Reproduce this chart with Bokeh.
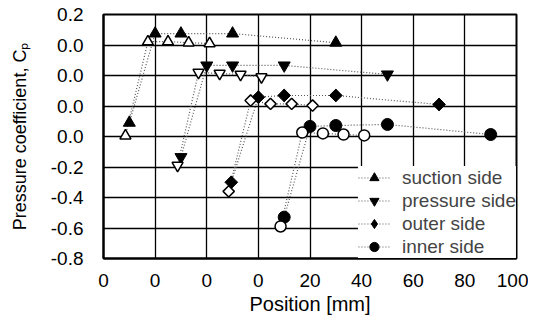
import numpy as np
from bokeh.plotting import figure
from bokeh.models import Legend, LegendItem, FixedTicker
from bokeh.embed import file_html
from bokeh.resources import INLINE

# ---- data (values in the chart's own axis units) ----
x_ticks = [-60, -40, -20, 0, 20, 40, 60, 80, 100]
x_labels = ["0", "0", "0", "0", "20", "40", "60", "80", "100"]
y_ticks = [-0.8, -0.6, -0.4, -0.2, 0.0, 0.2, 0.4, 0.6, 0.8]
y_labels = ["-0.8", "-0.6", "-0.4", "-0.2", "0.0", "0.0", "0.0", "0.0", "0.2"]

suction_x = [-50, -40, -30, -10, 30]
suction_y = [0.09, 0.675, 0.675, 0.675, 0.615]
suction_open_x = [-51.5, -42.8, -35, -27, -18.9]
suction_open_y = [0.005, 0.622, 0.622, 0.615, 0.61]

pressure_x = [-30, -20, -10, 10, 50]
pressure_y = [-0.135, 0.466, 0.466, 0.466, 0.407]
pressure_open_x = [-31.3, -23.2, -15, -6.9, 1.2]
pressure_open_y = [-0.19, 0.42, 0.413, 0.407, 0.39]

outer_x = [-10.5, 0, 10, 30, 70]
outer_y = [-0.30, 0.258, 0.269, 0.269, 0.21]
outer_open_x = [-11.5, -3, 4.7, 12.9, 21]
outer_open_y = [-0.36, 0.236, 0.214, 0.214, 0.203]

inner_x = [10, 20, 30, 50, 90]
inner_y = [-0.529, 0.066, 0.072, 0.079, 0.013]
inner_open_x = [8.6, 17, 25, 33, 41]
inner_open_y = [-0.59, 0.026, 0.02, 0.013, 0.007]

series_names = ["suction side", "pressure side", "outer side", "inner side"]

FONT = "Liberation Sans"

p = figure(width=528, height=318, x_range=(-60, 100), y_range=(-0.8, 0.8),
           output_backend="svg", toolbar_location=None,
           min_border_left=103, min_border_right=12, min_border_top=14, min_border_bottom=60)
p.background_fill_color = "white"
p.border_fill_color = "white"
p.outline_line_color = "black"
p.outline_line_width = 2

p.xaxis.ticker = FixedTicker(ticks=x_ticks)
p.yaxis.ticker = FixedTicker(ticks=y_ticks)
p.xaxis.major_label_overrides = dict(zip(x_ticks, x_labels))
p.yaxis.major_label_overrides = dict(zip(y_ticks, y_labels))

for ax in (p.xaxis, p.yaxis):
    ax.axis_line_color = "black"
    ax.axis_line_width = 2
    ax.major_tick_out = 0
    ax.major_tick_in = 0
    ax.minor_tick_out = 0
    ax.minor_tick_in = 0
    ax.major_label_text_font = FONT
    ax.major_label_text_font_size = "19px"
    ax.major_label_text_color = "black"
    ax.axis_label_text_font = FONT
    ax.axis_label_text_font_style = "normal"
    ax.axis_label_text_color = "black"

p.xaxis.axis_label = "Position [mm]"
p.yaxis.axis_label = "Pressure coefficient, C\u209a"
p.xaxis.axis_label_text_font_size = "20px"
p.yaxis.axis_label_text_font_size = "18px"
p.xaxis.major_label_standoff = 15
p.xaxis.axis_label_standoff = 3
p.yaxis.major_label_standoff = 20
p.yaxis.axis_label_standoff = 18

p.xgrid.grid_line_color = "black"
p.ygrid.grid_line_color = "black"
p.xgrid.grid_line_width = 1.3
p.ygrid.grid_line_width = 1.3

markers = ["triangle", "inverted_triangle", "square", "circle"]
legend_markers = ["triangle", "inverted_triangle", "diamond", "circle"]
sizes = [12, 12, 9, 12]
angles = [0, 0, np.pi / 4, 0]
filled = [(suction_x, suction_y), (pressure_x, pressure_y), (outer_x, outer_y), (inner_x, inner_y)]
opened = [(suction_open_x, suction_open_y), (pressure_open_x, pressure_open_y),
          (outer_open_x, outer_open_y), (inner_open_x, inner_open_y)]

items = []
for name, mk, lmk, sz, ang, (fx, fy), (ox, oy) in zip(series_names, markers, legend_markers,
                                                     sizes, angles, filled, opened):
    lf = p.line(fx, fy, line_color="#555555", line_dash="1 2", line_width=1.2)
    p.line(ox, oy, line_color="#555555", line_dash="1 2", line_width=1.2)
    proxy = None
    if lmk != mk:
        # legend-shaped marker hidden underneath the rotated squares
        proxy = p.scatter(fx, fy, marker=lmk, size=12, fill_color="black", line_color="black")
    sf = p.scatter(fx, fy, marker=mk, size=sz, angle=ang, fill_color="black", line_color="black")
    p.scatter(ox, oy, marker=mk, size=sz - 1, angle=ang, fill_color="white", line_color="black", line_width=1.5)
    items.append(LegendItem(label=name, renderers=[lf, proxy if proxy is not None else sf]))

legend = Legend(items=items, location="bottom_right", margin=0, padding=0, spacing=0,
                glyph_width=32, glyph_height=23, label_height=23, label_standoff=12,
                label_text_font=FONT, label_text_font_size="19px",
                border_line_alpha=0,
                background_fill_color="white", background_fill_alpha=1.0)
p.add_layout(legend)

open("out.html", "w").write(file_html(p, INLINE))
